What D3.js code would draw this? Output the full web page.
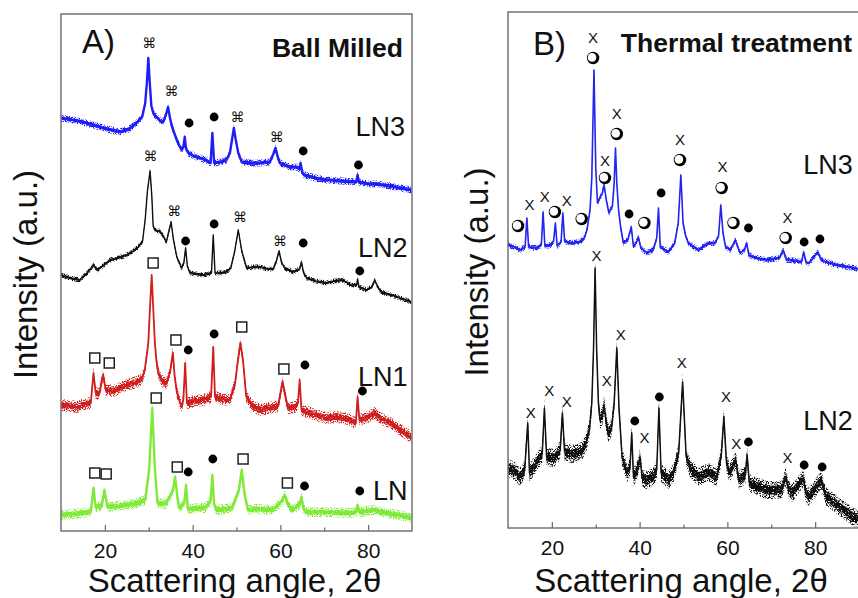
<!DOCTYPE html>
<html>
<head>
<meta charset="utf-8">
<script src="https://cdn.jsdelivr.net/npm/d3@7"></script>
<style>
  body { margin: 0; background: #fff; }
  svg { display: block; font-family: "Liberation Sans", Arial, sans-serif; }
</style>
</head>
<body>
<svg id="chart" width="858" height="598"></svg>
<script>
// ---------- data ----------
const angleDomain = [10, 90];
const majorTicks = [20, 40, 60, 80];
const minorTicks = [30, 50, 70];

// Ball milled XRD patterns: [2θ (deg), stacked intensity (a.u.)]
const ballLN3 = [[10,413],[14,410],[17.4,406],[20.5,402],[23.4,399],[25.5,402],[27.2,408],[28.5,414],[29.2,428],[29.6,450],[29.9,473],[30.2,450],[30.6,425],[31.1,417],[31.8,414],[32.6,410],[33.3,409],[33.9,416],[34.4,424],[34.8,414],[35.2,406],[35.8,398],[36.4,391],[37.0,385],[37.5,381],[37.9,384],[38.2,394],[38.5,382],[39.0,378],[40.3,375],[41.7,373],[43.0,371],[44.1,368],[44.5,398],[44.9,368],[46.3,369],[47.7,371],[48.5,378],[49.0,392],[49.4,403],[49.8,392],[50.4,378],[51.2,369],[53.2,368],[55.3,368],[57.6,369],[58.4,377],[58.9,383],[59.4,374],[59.9,368],[61,366],[62.2,364],[63.6,364],[64.4,362],[64.6,368],[65.0,358],[65.5,356],[68,353],[70.5,351],[74,350],[77.3,349],[77.6,356],[77.9,349],[80,347],[81.9,347],[85,345],[89.8,341]];
const ballLN2 = [[10,256],[12,253],[14.3,251],[16,258],[17.4,266],[18.2,261],[19.5,265],[21.2,271],[23,273],[25,276],[26.5,280],[27.6,284],[28.6,290],[29.2,312],[29.7,340],[30.3,360],[30.7,335],[31.0,305],[31.4,301],[32.4,300],[33.3,295],[34.0,289],[34.6,300],[35.1,309],[35.6,292],[36.4,274],[37.5,263],[38.0,268],[38.4,283],[38.8,265],[39.4,258],[41,257],[42.4,256],[44.3,258],[44.7,296],[45.1,258],[46.5,258],[47.7,259],[48.7,263],[49.6,280],[50.4,301],[51.2,280],[52.3,263],[53.8,264],[55.3,264],[57,262],[58.4,262],[59.1,270],[59.7,280],[60.3,268],[61,263],[62.9,259],[64.4,262],[64.8,269],[65.3,258],[66,253],[68,250],[70.5,248],[72.5,250],[74.3,251],[76,246],[77.4,246],[77.6,252],[77.9,244],[79.6,241],[80.8,244],[81.5,251],[82.3,243],[83,239],[86,235],[89.8,229]];
const ballLN1 = [[10,126],[12,125],[13.6,124],[15.5,127],[16.8,128],[17.4,158],[17.9,138],[18.7,137],[19.6,156],[20.2,141],[22,140],[25,146],[27.3,149],[28.4,152],[29.1,161],[29.9,188],[30.3,225],[30.67,256],[31.0,225],[31.4,188],[31.8,168],[32.2,158],[33,150],[34.1,148],[34.9,160],[35.5,178],[35.9,155],[36.4,139],[37.5,124],[37.9,132],[38.3,168],[38.7,128],[40.5,130],[42.4,131],[44.2,134],[44.7,184],[45.1,134],[46.8,132],[48.5,131],[49.7,148],[50.3,170],[50.9,188],[51.5,170],[52.2,135],[53.5,126],[55.3,121],[57.5,123],[59.5,125],[60.1,140],[60.5,149],[61.0,138],[61.7,123],[63.4,124],[64.0,128],[64.4,151],[64.8,121],[67.5,117],[70.5,113],[73,114],[75.5,112],[77.2,108],[77.6,134],[78.0,111],[80,114],[81.5,118],[83,112],[84.8,109],[87,102],[89.8,94]];
const ballLN = [[10,16],[13,17],[16.8,19],[17.4,43],[17.9,24],[19.3,25],[19.9,41],[20.6,24],[23,25],[25,26],[27.5,28],[29.2,31],[30.1,62],[30.8,123],[31.4,62],[32.0,28],[33.9,27],[35.5,40],[36.0,54],[36.5,35],[36.9,23],[38.1,28],[38.5,46],[38.9,22],[41,23],[42.8,23],[44.1,30],[44.5,56],[44.9,27],[45.4,21],[47.5,22],[49.0,23],[50.5,40],[51.2,61],[51.8,38],[52.6,21],[55,22],[58.3,21],[60.4,30],[61.0,36],[61.6,28],[62.6,21],[64.4,26],[64.8,34],[65.3,22],[66,19],[70,19],[75.7,18],[77.3,19],[77.6,26],[78.0,19],[81.5,21],[84,18],[87,16],[89.8,13]];

// Thermally treated XRD patterns
const heatLN3 = [[10,283],[11.5,281],[12.7,278],[13.9,281],[14.3,310],[14.7,281],[16.4,280],[17.6,283],[18.0,316],[18.4,282],[19.8,283],[20.4,287],[20.8,305],[21.2,282],[22.1,286],[22.5,315],[22.9,287],[24.0,285],[26.2,286],[27.3,289],[28.0,298],[28.7,318],[29.1,350],[29.6,458],[30.0,360],[30.4,325],[30.9,330],[31.5,335],[31.9,343],[32.4,328],[33.0,315],[33.8,322],[34.2,345],[34.5,380],[34.8,345],[35.2,318],[35.7,300],[36.3,285],[37.3,288],[38.1,301],[38.6,281],[39.3,286],[39.7,291],[40.3,280],[41.6,275],[43.1,278],[43.9,290],[44.3,320],[44.7,281],[46.6,276],[48.0,285],[48.8,305],[49.4,353],[49.9,305],[50.5,292],[51.1,285],[53.4,278],[55.7,285],[57.2,285],[58.0,292],[58.5,323],[59.0,295],[59.6,281],[60.7,278],[61.8,288],[62.9,275],[64.0,279],[64.4,285],[64.9,273],[65.9,271],[68.9,268],[71.9,270],[72.7,278],[73.5,268],[74.2,268],[76.9,266],[77.4,276],[77.9,266],[78.6,265],[80.6,276],[81.4,268],[82.6,266],[84.9,263],[88.7,260],[90,259]];
const heatLN2 = [[10,60],[11.5,57],[12.7,51],[13.8,58],[14.5,105],[14.9,55],[16.0,62],[16.9,68],[17.8,74],[18.3,120],[18.8,71],[20.7,70],[21.9,78],[22.4,115],[22.9,76],[24.5,74],[25.9,75],[27.0,78],[27.8,85],[28.6,100],[29.1,125],[29.5,180],[29.85,260],[30.2,180],[30.6,125],[31.0,108],[31.5,112],[31.9,123],[32.4,105],[32.8,95],[33.6,100],[34.2,125],[34.8,180],[35.3,120],[36.0,71],[37.1,55],[37.8,60],[38.2,95],[38.6,51],[39.5,58],[40.1,71],[40.6,50],[41.6,48],[43.1,51],[43.9,58],[44.4,120],[44.9,55],[46.6,48],[47.7,55],[48.9,75],[49.8,146],[50.6,72],[51.5,60],[53.4,51],[55.7,56],[57.6,51],[58.6,72],[59.2,111],[59.8,65],[60.5,55],[61.9,68],[62.6,48],[64.1,53],[64.5,73],[65.0,45],[66.5,42],[68.9,38],[72.3,38],[73.3,51],[74.0,38],[74.8,35],[77.3,50],[77.9,35],[78.6,31],[81.4,48],[82.2,36],[82.6,31],[85.6,21],[88.7,11],[90,9]];

// Phase markers: [2θ, intensity, symbol]
const ballMarkers = [
  [30.1,488,"cmd"],[35.2,440,"cmd"],[39.2,408,"dot"],[44.9,414,"dot"],[50.2,414,"cmd"],[59.2,394,"cmd"],[65.2,380,"dot"],[77.8,366,"dot"],
  [30.4,375,"cmd"],[35.8,320,"cmd"],[38.4,290,"dot"],[44.9,307,"dot"],[50.8,314,"cmd"],[59.9,290,"cmd"],[65.2,288,"dot"],[78.1,260,"dot"],
  [17.7,173,"sq"],[21.0,168,"sq"],[31.0,268,"sq"],[36.2,191,"sq"],[39.0,181,"dot"],[44.9,197,"dot"],[51.2,204,"sq"],[60.8,162,"sq"],[65.6,166,"dot"],[78.7,140,"dot"],
  [17.7,58,"sq"],[20.3,57,"sq"],[31.7,133,"sq"],[36.5,64,"sq"],[39.0,59,"dot"],[44.6,72,"dot"],[51.5,72,"sq"],[61.6,48,"sq"],[65.5,45,"dot"],[78.1,40,"dot"]
];
const heatMarkers = [
  [29.4,491,"x"],[29.4,470,"ring"],[34.8,415,"x"],[34.8,394,"ring"],[32.1,368,"x"],[32.1,350,"ring"],[49.2,389,"x"],[49.2,368,"ring"],
  [58.9,362,"x"],[58.7,340,"ring"],[44.9,335,"dot"],[12.3,302,"ring"],[14.9,324,"x"],[18.4,332,"x"],[20.7,316,"ring"],[23.4,328,"x"],
  [26.8,309,"ring"],[37.6,314,"dot"],[41.1,305,"ring"],[61.4,305,"ring"],[64.8,300,"dot"],[73.7,311,"x"],[73.3,290,"ring"],[77.5,286,"dot"],[81.1,289,"dot"],
  [15.2,116,"x"],[19.4,138,"x"],[23.4,127,"x"],[30.2,273,"x"],[32.5,148,"x"],[35.7,194,"x"],[38.9,107,"dot"],[41.1,91,"x"],[44.5,131,"dot"],
  [49.6,166,"x"],[59.7,132,"x"],[62.0,85,"x"],[64.8,86,"dot"],[73.7,71,"x"],[77.5,63,"dot"],[81.6,61,"dot"]
];

// Sample names: [text, 2θ of right end, intensity]
const ballLabels = [["LN3",88.4,404],["LN2",89.0,283],["LN1",89.0,154],["LN",89.0,40]];
const heatLabels = [["LN3",88.6,363],["LN2",88.6,107]];

// ---------- drawing ----------
const svg = d3.select("#chart");
const defs = svg.append("defs");

// grainy textures for the scatter of measured counts around each pattern
function grain(id, seed, offset) {
  const f = defs.append("filter").attr("id", id)
    .attr("filterUnits", "userSpaceOnUse").attr("x", 0).attr("y", 0).attr("width", 858).attr("height", 598);
  f.append("feTurbulence").attr("type", "fractalNoise").attr("baseFrequency", 0.75)
    .attr("numOctaves", 1).attr("seed", seed).attr("result", "noise");
  f.append("feColorMatrix").attr("in", "noise").attr("type", "matrix")
    .attr("values", `0 0 0 0 0  0 0 0 0 0  0 0 0 0 0  9 0 0 0 ${offset}`).attr("result", "mask");
  f.append("feComposite").attr("in", "SourceGraphic").attr("in2", "mask").attr("operator", "in");
}
grain("grainSparse", 7, -4.3);
grain("grainDense", 11, -3.0);

const panels = [
  {
    box: {x0: 61, x1: 412, y0: 14, y1: 531}, yMax: 517,
    letter: "A)", letterPos: [82, 53], title: "Ball Milled", titlePos: [403, 57],
    yLabelX: 26,
    series: [
      {data: ballLN3, color: "#1f1ff5", band: 7, core: 2.4},
      {data: ballLN2, color: "#111111", band: 5, core: 1.4},
      {data: ballLN1, color: "#cf1f1f", band: 12, core: 1.8},
      {data: ballLN,  color: "#80ea38", band: 10, core: 2.4}
    ],
    markers: ballMarkers, labels: ballLabels
  },
  {
    box: {x0: 508, x1: 859, y0: 12, y1: 528}, yMax: 516,
    letter: "B)", letterPos: [533, 55], title: "Thermal treatment", titlePos: [852, 52],
    yLabelX: 477,
    series: [
      {data: heatLN3, color: "#2424f0", band: 6, core: 1.6},
      {data: heatLN2, color: "#111111", band: 18, core: 1.5}
    ],
    markers: heatMarkers, labels: heatLabels
  }
];

panels.forEach(p => {
  const b = p.box;
  const x = d3.scaleLinear().domain(angleDomain).range([b.x0, b.x1]);
  const y = d3.scaleLinear().domain([0, p.yMax]).range([b.y1, b.y0]);
  const g = svg.append("g");

  const clipId = "clip" + b.x0;
  defs.append("clipPath").attr("id", clipId)
    .append("rect").attr("x", b.x0).attr("y", b.y0).attr("width", b.x1 - b.x0).attr("height", b.y1 - b.y0);

  const line = d3.line().x(d => x(d[0])).y(d => y(d[1]));
  const curves = g.append("g").attr("clip-path", `url(#${clipId})`);
  p.series.forEach(s => {
    // vertical scatter bands around the pattern: loose outer, tight inner
    const band = w => d3.area().x(d => x(d[0]))
      .y0(d => y(d[1]) + w / 2).y1(d => y(d[1]) - w / 2);
    curves.append("path").attr("d", band(s.band)(s.data))
      .attr("fill", s.color).attr("filter", "url(#grainSparse)");
    curves.append("path").attr("d", band(s.band * 0.5)(s.data))
      .attr("fill", s.color).attr("filter", "url(#grainDense)");
    curves.append("path").attr("d", line(s.data))
      .attr("fill", "none").attr("stroke", s.color).attr("stroke-width", s.core)
      .attr("stroke-linejoin", "round");
  });

  // frame
  g.append("rect").attr("x", b.x0).attr("y", b.y0)
    .attr("width", b.x1 - b.x0).attr("height", b.y1 - b.y0)
    .attr("fill", "none").attr("stroke", "#6a6a6a").attr("stroke-width", 1.4);

  // inward ticks on the bottom axis
  g.append("g").attr("transform", `translate(0,${b.y1})`)
    .call(d3.axisBottom(x).tickValues(majorTicks).tickSizeInner(-6).tickSizeOuter(0).tickPadding(12))
    .call(a => a.select(".domain").remove())
    .call(a => a.selectAll("line").attr("stroke", "#6a6a6a").attr("stroke-width", 1.2))
    .call(a => a.selectAll("text").attr("font-size", 21).attr("font-family", "Liberation Sans, Arial, sans-serif").attr("fill", "#111"));
  g.append("g").attr("transform", `translate(0,${b.y1})`)
    .call(d3.axisBottom(x).tickValues(minorTicks).tickSizeInner(-3.5).tickSizeOuter(0).tickFormat(""))
    .call(a => a.select(".domain").remove())
    .call(a => a.selectAll("line").attr("stroke", "#6a6a6a").attr("stroke-width", 1.2));

  // axis titles
  g.append("text").attr("x", (b.x0 + Math.min(b.x1, 858)) / 2 - 2).attr("y", 592)
    .attr("text-anchor", "middle").attr("font-size", 33).attr("fill", "#111")
    .text("Scattering angle, 2θ");
  g.append("text")
    .attr("transform", `translate(${p.yLabelX + 11},${(b.y0 + b.y1) / 2 + 2}) rotate(-90)`)
    .attr("text-anchor", "middle").attr("font-size", 33).attr("fill", "#111")
    .text("Intensity (a.u.)");

  // panel letter and title
  g.append("text").attr("x", p.letterPos[0]).attr("y", p.letterPos[1])
    .attr("font-size", 33).attr("fill", "#111").text(p.letter);
  g.append("text").attr("x", p.titlePos[0]).attr("y", p.titlePos[1])
    .attr("text-anchor", "end").attr("font-size", 26.5).attr("font-weight", "bold").attr("fill", "#111")
    .text(p.title);

  // sample names
  p.labels.forEach(l => {
    g.append("text").attr("x", x(l[1])).attr("y", y(l[2]))
      .attr("text-anchor", "end").attr("dominant-baseline", "central")
      .attr("font-size", 27).attr("fill", "#111").text(l[0]);
  });

  // phase markers
  const mk = g.append("g");
  p.markers.forEach(m => {
    const cx = x(m[0]), cy = y(m[1]);
    if (m[2] === "dot") {
      mk.append("circle").attr("cx", cx).attr("cy", cy).attr("r", 4.4).attr("fill", "#000");
    } else if (m[2] === "sq") {
      mk.append("rect").attr("x", cx - 5).attr("y", cy - 5).attr("width", 10).attr("height", 10)
        .attr("fill", "#fff").attr("stroke", "#222").attr("stroke-width", 1.5);
    } else if (m[2] === "ring") {
      mk.append("circle").attr("cx", cx).attr("cy", cy).attr("r", 6.2).attr("fill", "#000");
      mk.append("circle").attr("cx", cx - 1.1).attr("cy", cy - 0.6).attr("r", 4.3).attr("fill", "#fff");
    } else if (m[2] === "cmd") {
      mk.append("text").attr("x", cx).attr("y", cy).attr("text-anchor", "middle")
        .attr("dominant-baseline", "central").attr("font-family", "DejaVu Sans")
        .attr("font-size", 14).attr("fill", "#111").text("⌘");
    } else if (m[2] === "x") {
      mk.append("text").attr("x", cx).attr("y", cy).attr("text-anchor", "middle")
        .attr("dominant-baseline", "central").attr("font-size", 15).attr("fill", "#111").text("X");
    }
  });
});
</script>
</body>
</html>
